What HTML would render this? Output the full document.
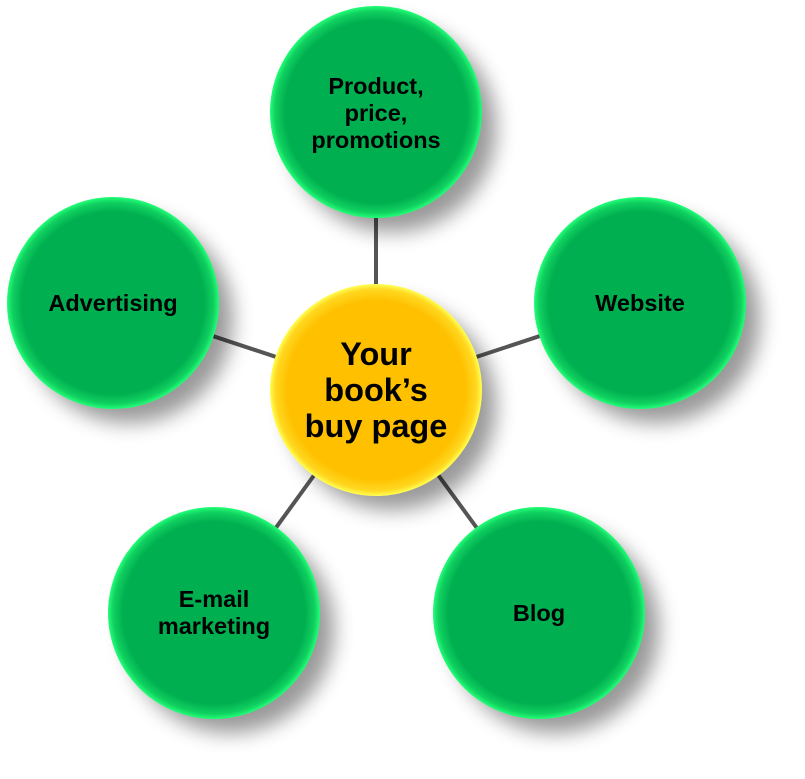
<!DOCTYPE html>
<html><head><style>
body{margin:0;background:#fff;}
svg{display:block;}
text{font-family:"Liberation Sans",Arial,sans-serif;font-weight:bold;text-anchor:middle;fill:#000;}
</style></head><body>
<svg width="805" height="779" viewBox="0 0 805 779">
<defs>
<radialGradient id="g" cx="50%" cy="50%" r="50%">
<stop offset="0.86" stop-color="#00b050"/>
<stop offset="0.95" stop-color="#10d060"/>
<stop offset="1" stop-color="#22ff77"/>
</radialGradient>
<radialGradient id="y" cx="50%" cy="50%" r="50%">
<stop offset="0.84" stop-color="#ffc000"/>
<stop offset="0.95" stop-color="#ffd820"/>
<stop offset="1" stop-color="#ffff55"/>
</radialGradient>
<filter id="s" x="-30%" y="-30%" width="160%" height="160%"><feGaussianBlur stdDeviation="10"/></filter>
</defs>
<g stroke="#555" stroke-width="4">
<line x1="376" y1="390" x2="376" y2="112"/>
<line x1="376" y1="390" x2="113" y2="303"/>
<line x1="376" y1="390" x2="640" y2="303"/>
<line x1="376" y1="390" x2="214" y2="613"/>
<line x1="376" y1="390" x2="539" y2="613"/>
</g>
<g fill="#000" opacity="0.4" filter="url(#s)">
<circle cx="392" cy="128" r="104"/>
<circle cx="129" cy="319" r="104"/>
<circle cx="656" cy="319" r="104"/>
<circle cx="230" cy="629" r="104"/>
<circle cx="555" cy="629" r="104"/>
<circle cx="392" cy="406" r="104"/>
</g>
<circle cx="376" cy="112" r="106" fill="url(#g)"/>
<circle cx="113" cy="303" r="106" fill="url(#g)"/>
<circle cx="640" cy="303" r="106" fill="url(#g)"/>
<circle cx="214" cy="613" r="106" fill="url(#g)"/>
<circle cx="539" cy="613" r="106" fill="url(#g)"/>
<circle cx="376" cy="390" r="106" fill="url(#y)"/>
<g font-size="23.5">
<text x="376" y="94">Product,</text>
<text x="376" y="121">price,</text>
<text x="376" y="148">promotions</text>
<text x="113" y="311">Advertising</text>
<text x="640" y="311">Website</text>
<text x="214" y="607">E-mail</text>
<text x="214" y="634">marketing</text>
<text x="539" y="621">Blog</text>
</g>
<g font-size="32.5">
<text x="376" y="365">Your</text>
<text x="376" y="401">book’s</text>
<text x="376" y="437">buy page</text>
</g>
</svg>
</body></html>
